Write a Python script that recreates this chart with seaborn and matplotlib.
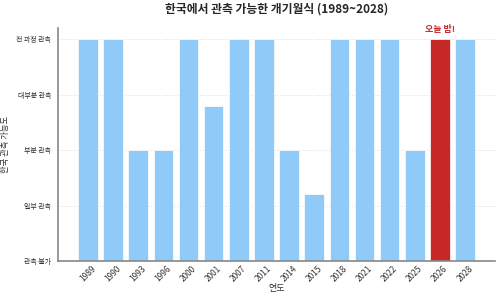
import matplotlib
matplotlib.use("Agg")
import pandas as pd
import seaborn as sns
import matplotlib.pyplot as plt

# Data
years = ["1989", "1990", "1993", "1996", "2000", "2001", "2007", "2011",
         "2014", "2015", "2018", "2021", "2022", "2025", "2026", "2028"]
visibility = [4, 4, 2, 2, 4, 2.8, 4, 4, 2, 1.2, 4, 4, 4, 2, 4, 4]
level_labels = ["관측 불가", "일부 관측", "부분 관측", "대부분 관측", "전 과정 관측"]
highlight_year = "2026"
highlight_text = "오늘 밤!"

df = pd.DataFrame({"연도": years, "가능도": visibility})
colors = ["#C62828" if y == highlight_year else "#90CAF9" for y in years]

sns.set_style("white")
plt.rcParams["font.family"] = ["Noto Sans CJK KR", "DejaVu Sans"]

fig, ax = plt.subplots(figsize=(5, 2.98), dpi=100)
fig.subplots_adjust(left=0.116, right=0.99, bottom=0.124, top=0.906)

sns.barplot(data=df, x="연도", y="가능도", hue="연도", palette=colors,
            legend=False, width=0.78, edgecolor="white", linewidth=0.5,
            saturation=1, ax=ax)

ax.set_xlim(-1.19, len(years) - 1 + 1.19)
ax.set_ylim(0, 4.2)
ax.set_yticks(range(len(level_labels)))
ax.set_yticklabels(level_labels, fontsize=5, color="#333333")
ax.tick_params(axis="x", labelsize=6, labelcolor="#333333", rotation=45,
               length=2, color="#888888", pad=0)
ax.tick_params(axis="y", length=2, color="#888888", pad=3)
for lbl in ax.get_xticklabels():
    lbl.set_ha("center")

ax.yaxis.grid(True, linestyle=":", color="#dddddd", linewidth=0.7)
ax.set_axisbelow(True)
sns.despine(ax=ax)
ax.spines["left"].set_color("#888888")
ax.spines["bottom"].set_color("#888888")
ax.spines["left"].set_linewidth(1.2)
ax.spines["bottom"].set_linewidth(1.2)

ax.set_xlabel("연도", fontsize=6.5, color="#333333")
ax.xaxis.set_label_coords(0.5, -0.1)
ax.set_ylabel("한국 관측 가능도", fontsize=6, color="#333333")
ax.yaxis.set_label_coords(-0.11, 0.5)
ax.set_title("한국에서 관측 가능한 개기월식 (1989~2028)", fontsize=8.5,
             fontweight="bold", pad=11)

hi = years.index(highlight_year)
ax.text(hi, 4.1, highlight_text, ha="center", va="bottom", color="#C62828",
        fontsize=6.5, fontweight="bold", clip_on=False)

plt.savefig("out.png")
